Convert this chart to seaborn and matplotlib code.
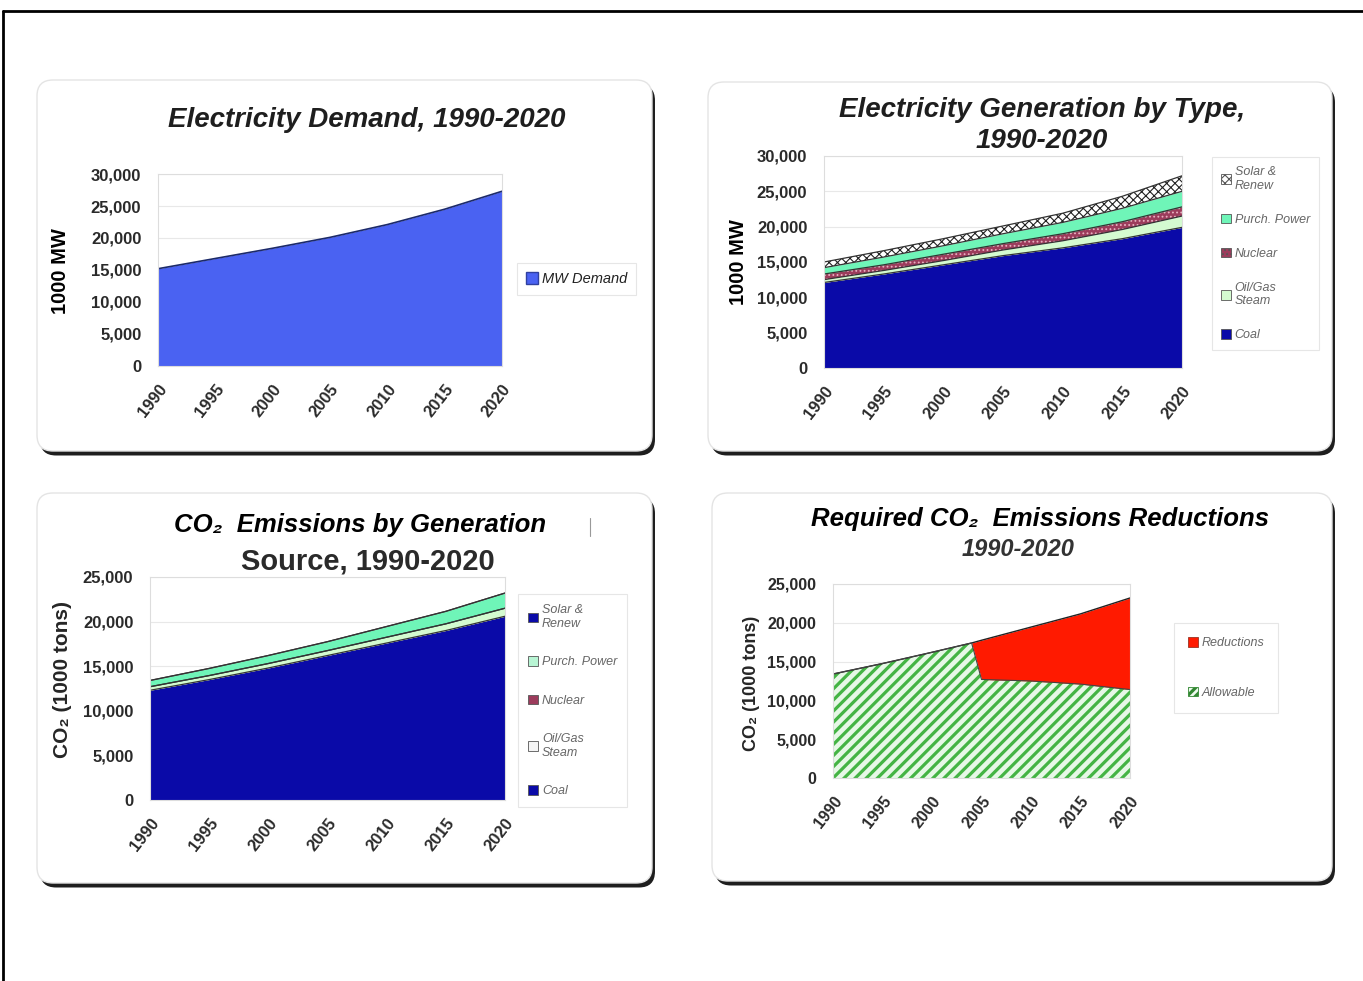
import matplotlib
matplotlib.use("Agg")
import matplotlib.pyplot as plt
import seaborn as sns
from matplotlib.patches import FancyBboxPatch, Patch
from matplotlib.lines import Line2D

# ---- data ----
years = [1990, 1995, 2000, 2005, 2010, 2015, 2020]

mw_demand = [15200, 16800, 18400, 20100, 22100, 24500, 27300]

gen_coal = [12100, 13300, 14600, 15900, 17000, 18300, 19900]
gen_oilgas = [400, 500, 600, 800, 1000, 1300, 1600]
gen_nuclear = [800, 800, 900, 900, 1000, 1100, 1300]
gen_purch = [900, 1100, 1200, 1400, 1600, 1900, 2200]
gen_solar = [800, 900, 1000, 1100, 1300, 1700, 2200]

co2_coal = [12300, 13500, 14800, 16200, 17600, 19000, 20600]
co2_oilgas = [400, 450, 500, 550, 650, 750, 900]
co2_nuclear = [0, 0, 0, 0, 0, 0, 0]
co2_purch = [700, 800, 900, 1000, 1200, 1400, 1700]
co2_solar = [0, 0, 0, 0, 0, 0, 0]

req_years = [1990, 1995, 2000, 2004, 2005, 2010, 2015, 2020]
req_total = [13400, 14750, 16200, 17400, 17750, 19450, 21150, 23200]
req_allowable = [13400, 14750, 16200, 17400, 12700, 12500, 12100, 11400]

source_labels = ["Coal", "Oil/Gas\nSteam", "Nuclear", "Purch. Power", "Solar &\nRenew"]
mw_ticks = [0, 5000, 10000, 15000, 20000, 25000, 30000]
co2_ticks = [0, 5000, 10000, 15000, 20000, 25000]

W, H = 1363, 981
sns.set_style("white")
plt.rcParams['font.family'] = ['Liberation Sans', 'DejaVu Sans']
plt.rcParams['hatch.linewidth'] = 0.8

fig = plt.figure(figsize=(W / 100, H / 100), dpi=100)


def px_axes(x0, y0, x1, y1):
    return fig.add_axes([x0 / W, 1 - y1 / H, (x1 - x0) / W, (y1 - y0) / H])


def ftext(x, y, s, **kw):
    fig.text(x / W, 1 - y / H, s, **kw)


def panel_box(x0, y0, x1, y1):
    # shadow then white rounded card, in inches
    r = 0.16
    sh = FancyBboxPatch((x0 / 100 + 0.03, (H - y1) / 100 - 0.045), (x1 - x0) / 100, (y1 - y0) / 100,
                        boxstyle=f"round,pad=0,rounding_size={r}", transform=fig.dpi_scale_trans,
                        facecolor="#1e1e1e", edgecolor="none", zorder=-3)
    card = FancyBboxPatch((x0 / 100, (H - y1) / 100), (x1 - x0) / 100, (y1 - y0) / 100,
                          boxstyle=f"round,pad=0,rounding_size={r}", transform=fig.dpi_scale_trans,
                          facecolor="white", edgecolor="#e4e4e4", lw=1, zorder=-2)
    fig.patches.extend([sh, card])


def style_axes(ax, ticks, ymax, fs=12):
    ax.set_xlim(1990, 2020)
    ax.set_ylim(0, ymax)
    ax.set_xticks(years)
    ax.set_xticklabels([str(y) for y in years], rotation=52, ha="right",
                       rotation_mode="anchor", fontsize=fs, fontweight="bold", color="#2a2a2a")
    ax.set_yticks(ticks)
    ax.set_yticklabels([f"{t:,}" for t in ticks], fontsize=fs, fontweight="bold", color="#2a2a2a")
    ax.tick_params(axis="both", length=0)
    ax.tick_params(axis="y", pad=12)
    ax.tick_params(axis="x", pad=11)
    ax.grid(axis="y", color="#e8e8e8", lw=0.8)
    ax.set_axisbelow(True)
    for s in ax.spines.values():
        s.set_color("#dddddd")
        s.set_linewidth(0.8)
    ax.set_xlabel("")
    ax.set_ylabel("")


def add_legend(ax, handles, labels, x0, y0, fs=9, spacing=1.5, color="#666666", pad=0.8):
    leg = ax.legend(handles, labels, loc="upper left", bbox_to_anchor=(x0 / W, 1 - y0 / H),
                    bbox_transform=fig.transFigure, frameon=True,
                    labelspacing=spacing, handlelength=0.8, handleheight=0.8, handletextpad=0.3,
                    borderpad=pad, fancybox=False, prop={"style": "italic", "size": fs})
    leg.get_frame().set_edgecolor("#e0e0e0")
    leg.get_frame().set_linewidth(0.8)
    for t in leg.get_texts():
        t.set_color(color)
    return leg


# outer frame
fig.add_artist(Line2D([3 / W, 1], [1 - 11 / H, 1 - 11 / H], color="black", lw=2, transform=fig.transFigure))
fig.add_artist(Line2D([3 / W, 3 / W], [0, 1 - 11 / H], color="black", lw=2, transform=fig.transFigure))

panel_box(37, 80, 652, 451)
panel_box(708, 82, 1332, 451)
panel_box(37, 493, 652, 883)
panel_box(712, 493, 1332, 881)

title_kw = dict(fontweight="bold", style="italic", ha="center", va="center")
ylab_kw = dict(rotation=90, fontweight="bold", ha="center", va="center")

# ---- panel 1: demand ----
ax1 = px_axes(158, 174, 502, 366)
ax1.fill_between(years, 0, mw_demand, color="#4a62f2", lw=0)
sns.lineplot(x=years, y=mw_demand, ax=ax1, color="#1c2a6a", lw=1.2)
style_axes(ax1, mw_ticks, 30000)
add_legend(ax1, [Patch(facecolor="#4a62f2", edgecolor="#3040a0")], ["MW Demand"], 510, 256,
           fs=10.5, color="#222222", pad=0.6)
ftext(367, 120, "Electricity Demand, 1990-2020", color="#1e1e1e", fontsize=20, **title_kw)
ftext(61, 271, "1000 MW", fontsize=14.5, color="black", **ylab_kw)

# ---- panel 2: generation by type ----
gen_colors = ["#0a0aa8", "#d4fbd0", "#9c3c5c", "#6ff5b8", "#ffffff"]
gen_hatch = [None, None, "....", None, "xxxx"]
gen_edges = ["#0a0aa8", "#d4fbd0", "#e8b0c0", "#6ff5b8", "#222222"]
ax2 = px_axes(824, 156, 1182, 368)
polys = ax2.stackplot(years, gen_coal, gen_oilgas, gen_nuclear, gen_purch, gen_solar,
                      colors=gen_colors, lw=0)
for p, h, e in zip(polys, gen_hatch, gen_edges):
    p.set_edgecolor(e)
    p.set_linewidth(0)
    if h:
        p.set_hatch(h)
top = [0] * len(years)
for series in [gen_coal, gen_oilgas, gen_nuclear, gen_purch, gen_solar]:
    top = [a + b for a, b in zip(top, series)]
    sns.lineplot(x=years, y=top, ax=ax2, color="#333333", lw=0.9)
style_axes(ax2, mw_ticks, 30000)
h2 = [Patch(facecolor=c, edgecolor="#555555", hatch=h, lw=0.6) for c, h in zip(gen_colors, gen_hatch)]
add_legend(ax2, h2[::-1], source_labels[::-1], 1206, 151, fs=9, spacing=1.75, pad=0.7)
ftext(1042, 110, "Electricity Generation by Type,", color="#1e1e1e", fontsize=20, **title_kw)
ftext(1042, 141, "1990-2020", color="#1e1e1e", fontsize=20, **title_kw)
ftext(738, 262, "1000 MW", fontsize=14.5, color="black", **ylab_kw)

# ---- panel 3: CO2 by source ----
co2_colors = ["#0a0aa8", "#d4fbd0", "#9c3c5c", "#6ff5b8", "#0a0aa8"]
ax3 = px_axes(150, 577, 505, 800)
ax3.stackplot(years, co2_coal, co2_oilgas, co2_nuclear, co2_purch, co2_solar, colors=co2_colors, lw=0)
top = [0] * len(years)
for series in [co2_coal, co2_oilgas, co2_nuclear, co2_purch, co2_solar]:
    top = [a + b for a, b in zip(top, series)]
    sns.lineplot(x=years, y=top, ax=ax3, color="#333333", lw=0.9)
style_axes(ax3, co2_ticks, 25000)
h3 = [Patch(facecolor=c, edgecolor="#555555", lw=0.6) for c in ["#0a0aa8", "#f4f4f4", "#9c3c5c", "#b8f5d4", "#0a0aa8"]]
add_legend(ax3, h3[::-1], source_labels[::-1], 512, 588, fs=9, spacing=2.1)
ftext(360, 525, "CO\u2082  Emissions by Generation", color="black", fontsize=18.5, **title_kw)
ftext(368, 561, "Source, 1990-2020", color="#2a2a2a", fontsize=21, fontweight="bold",
      ha="center", va="center")
fig.add_artist(Line2D([590 / W, 590 / W], [1 - 536 / H, 1 - 518 / H], color="#999999", lw=0.8,
                      transform=fig.transFigure))
ftext(62, 680, "CO\u2082 (1000 tons)", fontsize=15, color="#262626", **ylab_kw)

# ---- panel 4: required reductions ----
req_reduction = [t - a for t, a in zip(req_total, req_allowable)]
ax4 = px_axes(833, 584, 1130, 778)
with plt.rc_context({"hatch.linewidth": 2.3}):
    allow = ax4.fill_between(req_years, 0, req_allowable, facecolor="#e6f8e6", edgecolor="#44b444",
                             hatch="///", lw=0)
    if hasattr(allow, "set_hatch_linewidth"):
        allow.set_hatch_linewidth(2.3)
    ax4.fill_between(req_years, req_allowable, req_total, facecolor="#ff1a00", lw=0)
    sns.lineplot(x=req_years, y=req_total, ax=ax4, color="#222222", lw=1.0)
    sns.lineplot(x=req_years, y=req_allowable, ax=ax4, color="#444444", lw=0.8)
    style_axes(ax4, co2_ticks, 25000, fs=11.5)
    h4 = [Patch(facecolor="#ff1a00", edgecolor="#993322", lw=0.6),
          Patch(facecolor="#eefaee", edgecolor="#338833", hatch="////", lw=0.6)]
    add_legend(ax4, h4, ["Reductions", "Allowable"], 1168, 617, fs=9, spacing=3.0, pad=1.1)
ftext(1040, 519, "Required CO\u2082  Emissions Reductions", color="black", fontsize=18.5, **title_kw)
ftext(1018, 549, "1990-2020", color="#333333", fontsize=17, fontweight="bold", style="italic",
      ha="center", va="center")
ftext(752, 683, "CO\u2082 (1000 tons)", fontsize=13, color="#262626", **ylab_kw)

fig.savefig("out.png", dpi=100, facecolor="white")
